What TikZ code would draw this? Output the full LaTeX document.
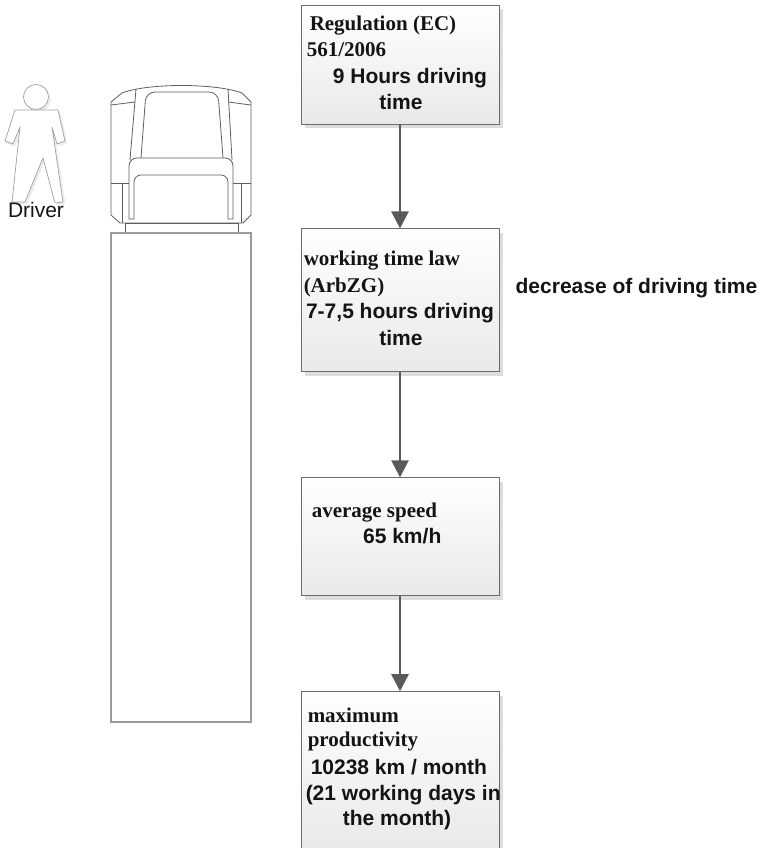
\documentclass[tikz,border=0pt]{standalone}
\usepackage{fontspec}
\setmainfont{Liberation Sans}
\newfontfamily\lawserif{Liberation Serif}
\usetikzlibrary{arrows.meta, positioning, shadows}
\usepackage{xcolor}
\definecolor{BoxLine}{HTML}{6B6B6B}
\definecolor{BoxFade}{HTML}{E9E9E9}
\definecolor{ShadowGray}{HTML}{DDDDDD}
\definecolor{ArrowGray}{HTML}{5A5A5A}
\definecolor{CabGray}{HTML}{5E5E5E}
\definecolor{TrailerGray}{HTML}{9A9A9A}
\definecolor{TextDark}{HTML}{141414}

\begin{document}
\begin{tikzpicture}[
            x=1pt, y=1pt,
            lawbox/.style={rectangle, draw=BoxLine, line width=0.9pt, top color=white, bottom color=BoxFade, minimum width=198pt, inner sep=0pt, drop shadow={shadow xshift=4pt, shadow yshift=-4pt, fill=ShadowGray, opacity=1}},
            serifline/.style={font=\lawserif\bfseries\fontsize{21}{25}\selectfont, text=TextDark, inner sep=0pt, anchor=base west},
            sansline/.style={font=\bfseries\fontsize{21}{25}\selectfont, text=TextDark, inner sep=0pt, anchor=base},
            arrow/.style={-{Triangle[length=17pt,width=17pt]}, line width=2.5pt, color=ArrowGray},
            cabline/.style={draw=CabGray, line width=0.8pt}
        ]
            \useasboundingbox (0,0) rectangle (765,848);

            % the four steps, top to bottom
            \node[lawbox, minimum height=119pt] (regulation) at (400,783.5) {};
            \node[lawbox, minimum height=143pt, below=104pt of regulation] (worklaw) {};
            \node[lawbox, minimum height=118pt, below=105pt of worklaw] (speed) {};
            \node[lawbox, minimum height=158pt, below=95pt of speed] (productivity) {};

            \node[serifline] (reg1) at ([xshift=9pt, yshift=-26pt]regulation.north west) {Regulation (EC)};
            \node[serifline] (reg2) at ([xshift=6pt, yshift=-52pt]regulation.north west) {561/2006};
            \node[sansline] (reg3) at ([xshift=10pt, yshift=-79pt]regulation.north) {9 Hours driving};
            \node[sansline] (reg4) at ([xshift=1pt, yshift=-105pt]regulation.north) {time};

            \node[serifline] (law1) at ([xshift=3pt, yshift=-37pt]worklaw.north west) {working time law};
            \node[serifline] (law2) at ([xshift=3pt, yshift=-64pt]worklaw.north west) {(ArbZG)};
            \node[sansline] (law3) at ([xshift=0pt, yshift=-90pt]worklaw.north) {7-7,5 hours driving};
            \node[sansline] (law4) at ([xshift=1pt, yshift=-117pt]worklaw.north) {time};

            \node[serifline] (spd1) at ([xshift=11pt, yshift=-40pt]speed.north west) {average speed};
            \node[sansline, anchor=base east] (spd2) at ([xshift=141pt, yshift=-66pt]speed.north west) {65 km/h};

            \node[serifline] (prod1) at ([xshift=7pt, yshift=-31pt]productivity.north west) {maximum};
            \node[serifline] (prod2) at ([xshift=7pt, yshift=-55pt]productivity.north west) {productivity};
            \node[sansline, anchor=base west] (prod3) at ([xshift=10pt, yshift=-83pt]productivity.north west) {10238 km / month};
            \node[sansline, anchor=base west] (prod4) at ([xshift=5pt, yshift=-109pt]productivity.north west) {(21 working days in};
            \node[sansline] (prod5) at ([xshift=-3pt, yshift=-134pt]productivity.north) {the month)};

            \node[sansline, anchor=base west] (decrease) at ([xshift=16pt, yshift=6.5pt]worklaw.east) {decrease of driving time};

            \draw[arrow] (regulation) -- (worklaw);
            \draw[arrow] (worklaw) -- (speed);
            \draw[arrow] (speed) -- (productivity);

            % driver, with a faint shadow behind
            \begin{scope}[shift={(0,848)}, yscale=-1]
                \foreach \dx/\col/\pen in {2/black!7/black!7, 0/white/gray!75} {
                    \begin{scope}[shift={(\dx,\dx)}]
                        \filldraw[fill=\col, draw=\pen, line width=0.7pt, line join=round]
                            (15,110) -- (5,141) -- (13,144) -- (20,127) -- (12,202) -- (25,202) -- (43,158)
                            -- (55,203) -- (63,202) -- (52,127) -- (57,144) -- (65,141) -- (58,110) -- cycle;
                        \filldraw[fill=\col, draw=\pen, line width=0.7pt] (36,97) circle (12.5);
                    \end{scope}
                }
            \end{scope}
            \node[font=\fontsize{21}{25}\selectfont, text=TextDark, inner sep=0pt, anchor=base] (driver) at (36,630) {Driver};

            % truck seen from above: cab and trailer
            \begin{scope}[shift={(0,848)}, yscale=-1, cabline]
                \draw (111,102) -- (111,215) -- (120,223) -- (243,223) -- (251,215) -- (251,102) -- (242,93)
                    .. controls (215,83) and (148,83) .. (122,93) -- cycle;
                \draw (111,105) -- (135,102);
                \draw (228,102) -- (251,105);
                \draw (136,89) -- (130,160);
                \draw (228,89) -- (232,160);
                \draw (141,158) [rounded corners=9pt] -- (146,92) -- (218,92) [sharp corners] -- (223,158);
                \draw (129,219) [rounded corners=8pt] -- (129,158) -- (233,158) [sharp corners] -- (233,219) -- (228,219)
                    [rounded corners=7pt] -- (228,175) -- (134,175) [sharp corners] -- (134,219) -- cycle;
                \draw (111,183) -- (129,183);
                \draw (122,183) -- (122,223);
                \draw (233,183) -- (251,183);
                \draw (241,183) -- (241,223);
                \draw (125,223) rectangle (238,233);
                \draw[draw=TrailerGray, line width=1.4pt] (111,233) rectangle (251,722);
            \end{scope}
        \end{tikzpicture}
\end{document}
